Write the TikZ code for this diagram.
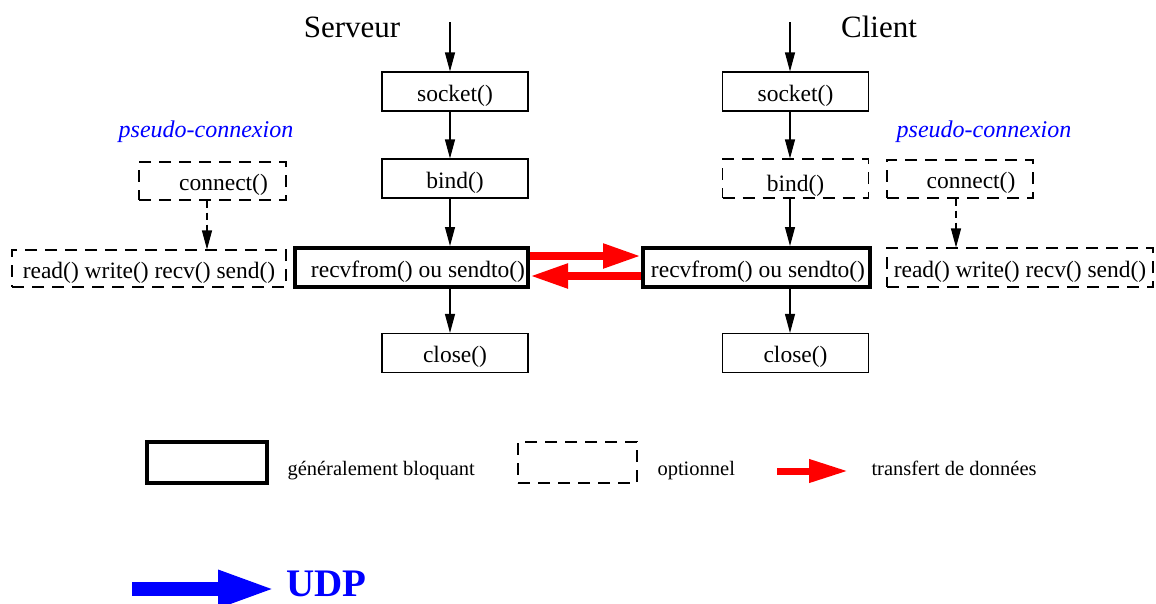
\documentclass[tikz,border=0pt]{standalone}
\usepackage{fontspec}
\setmainfont{Liberation Serif}
\usetikzlibrary{arrows.meta}
\begin{document}
\begin{tikzpicture}[x=1pt,y=-1pt,
  box/.style={draw, line width=1.1pt, minimum width=146pt, minimum height=39pt,
    inner sep=0pt, text height=19pt, text depth=0pt,
    font=\fontsize{23.5}{28}\selectfont},
  optbox/.style={box, dash pattern=on 12pt off 8pt},
  blockbox/.style={box, line width=4pt},
  flow/.style={line width=1.1pt, -{Triangle[length=19pt,width=10pt]}},
  optflow/.style={flow, dash pattern=on 7pt off 5pt},
  data/.style={red, line width=8pt, -{Triangle[length=38pt,width=23pt]}},
  title/.style={font=\fontsize{31}{36}\selectfont, anchor=base},
  pseudo/.style={blue, font=\fontsize{24}{28}\selectfont\itshape, anchor=base},
  legend/.style={font=\fontsize{20.5}{24}\selectfont, anchor=base west},
]
\useasboundingbox (0,0) rectangle (1156,603);
\fill[white] (0,0) rectangle (1156,603);

% titles
\node[title] (tsrv) at (352,37) {Serveur};
\node[title] (tcli) at (879,37) {Client};

% server column
\coordinate (stop) at (450,22);
\node[box] (ssock) at (455,91.5) {socket()};
\node[box] (sbind) at (455,178.5) {bind()};
\node[blockbox, minimum width=233pt] (srecv) at (411.5,267.5) {\hspace*{13pt}recvfrom() ou sendto()};
\node[box] (sclose) at (455,353) {close()};

\draw[flow] (stop) -- (ssock.north -| stop);
\draw[flow] (ssock.south -| stop) -- (sbind.north -| stop);
\draw[flow] (sbind.south -| stop) -- (srecv.north -| stop);
\draw[flow] (srecv.south -| stop) -- (sclose.north -| stop);

% client column
\coordinate (ctop) at (790,22);
\node[box] (csock) at (795.5,91.5) {socket()};
\node[optbox] (cbind) at (795.5,178.5) {\raisebox{-3pt}{bind()}};
\node[blockbox, minimum width=227pt] (crecv) at (756.5,267.5) {\hspace*{3pt}recvfrom() ou sendto()};
\node[box] (cclose) at (795.5,353) {close()};

\draw[flow] (ctop) -- (csock.north -| ctop);
\draw[flow] (csock.south -| ctop) -- (cbind.north -| ctop);
\draw[flow] (cbind.south -| ctop) -- (crecv.north -| ctop);
\draw[flow] (crecv.south -| ctop) -- (cclose.north -| ctop);

% data transfer between the two blocking calls
\draw[data] ([yshift=11.5pt]srecv.east) -- ([yshift=11.5pt]crecv.west);
\draw[data] ([yshift=-8.5pt]crecv.west) -- ([yshift=-8.5pt]srecv.east);

% left pseudo-connection
\node[pseudo] (lpseudo) at (206,137) {pseudo-connexion};
\node[optbox, minimum width=147pt, minimum height=38pt] (lconn) at (212.5,181) {\hspace*{22pt}connect()};
\node[optbox, minimum width=274pt, minimum height=37pt] (lread) at (149,268.5) {read() write() recv() send()};
\draw[optflow] ([xshift=-5.5pt]lconn.south) -- ([xshift=-5.5pt]lread.north -| lconn.south);

% right pseudo-connection
\node[pseudo] (rpseudo) at (984,137) {pseudo-connexion};
\node[optbox, minimum width=146pt, minimum height=38pt] (rconn) at (960,179) {\hspace*{22pt}connect()};
\node[optbox, minimum width=266pt, minimum height=39pt] (rread) at (1020,267.5) {read() write() recv() send()};
\draw[optflow] ([xshift=-4pt]rconn.south) -- ([xshift=-4pt]rread.north -| rconn.south);

% legend
\node[blockbox, minimum width=120pt, minimum height=41pt, line width=4.5pt] (lgblock) at (207,462.5) {};
\node[legend] (lgblocktxt) at (284,475) {généralement bloquant};
\node[optbox, minimum width=119pt, minimum height=41pt] (lgopt) at (577.5,462.5) {};
\node[legend] (lgopttxt) at (654,475) {optionnel};
\coordinate (lgd1) at (777,471);
\coordinate (lgd2) at (848,471);
\draw[data, line width=7pt, -{Triangle[length=39pt,width=22pt]}] (lgd1) -- (lgd2);
\node[legend] (lgdatatxt) at (868,475) {transfert de données};

% protocol tag
\coordinate (udp1) at (132,589);
\coordinate (udp2) at (276,589);
\draw[blue, line width=14pt, -{Triangle[length=58pt,width=34pt]}] (udp1) -- (udp2);
\node[blue, font=\fontsize{39}{44}\selectfont\bfseries, anchor=base west, inner sep=0pt] (udp) at (286,596) {UDP};
\end{tikzpicture}
\end{document}
